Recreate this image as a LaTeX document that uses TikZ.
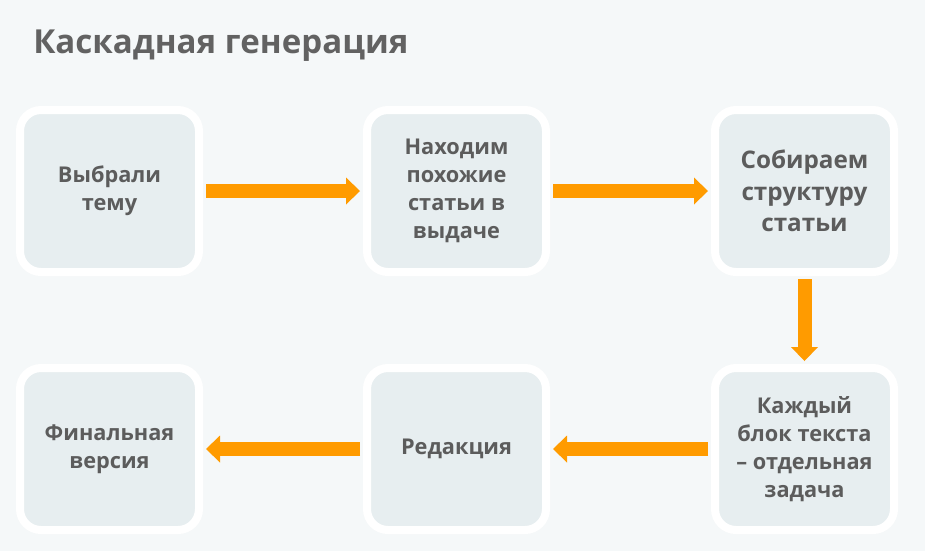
\documentclass[tikz,border=0pt]{standalone}
\usepackage{fontspec}
\setmainfont{Open Sans}
\usetikzlibrary{arrows.meta}
\definecolor{PageBg}{RGB}{245,248,249}
\definecolor{StageFill}{RGB}{231,238,240}
\definecolor{StageText}{RGB}{92,92,92}
\definecolor{FlowOrange}{RGB}{255,155,0}
\definecolor{TitleGray}{RGB}{98,98,98}

\begin{document}
\begin{tikzpicture}[
  x=0.75pt,y=-0.75pt,
  stage/.style={draw=white,line width=6pt,fill=StageFill,rounded corners=15.75pt,minimum width=134.25pt,minimum height=121.5pt,inner sep=0pt,align=center,text=StageText,font=\bfseries\fontsize{16.3}{21}\selectfont},
  big/.style={font=\bfseries\fontsize{18.2}{23.6}\selectfont},
  flow/.style={FlowOrange,line width=10.5pt,-{Triangle[width=20.25pt,length=10.5pt,line width=0pt]},shorten <=2.25pt,shorten >=2.25pt}]
\fill[PageBg] (0,0) rectangle (925,551);
\useasboundingbox (0,0) rectangle (925,551);
\node[anchor=base west,inner sep=0pt,text=TitleGray,font=\bfseries\fontsize{24.8}{30}\selectfont] (title) at (33,53) {Каскадная генерация};
% top row
\node[stage] (topic) at (109.5,191) {Выбрали\\тему};
\node[stage] (search) at (456.5,191) {Находим\\похожие\\статьи в\\выдаче};
\node[stage,big] (outline) at (804.5,191) {Собираем\\структуру\\статьи};
% bottom row
\node[stage] (blocks) at (804.5,449) {Каждый\\блок текста\\– отдельная\\задача};
\node[stage] (edit) at (456.5,449) {Редакция};
\node[stage] (final) at (109.5,449) {Финальная\\версия};
\draw[flow] (topic) -- (search);
\draw[flow] (search) -- (outline);
\draw[flow] (outline) -- (blocks);
\draw[flow] (blocks) -- (edit);
\draw[flow] (edit) -- (final);
\end{tikzpicture}
\end{document}
